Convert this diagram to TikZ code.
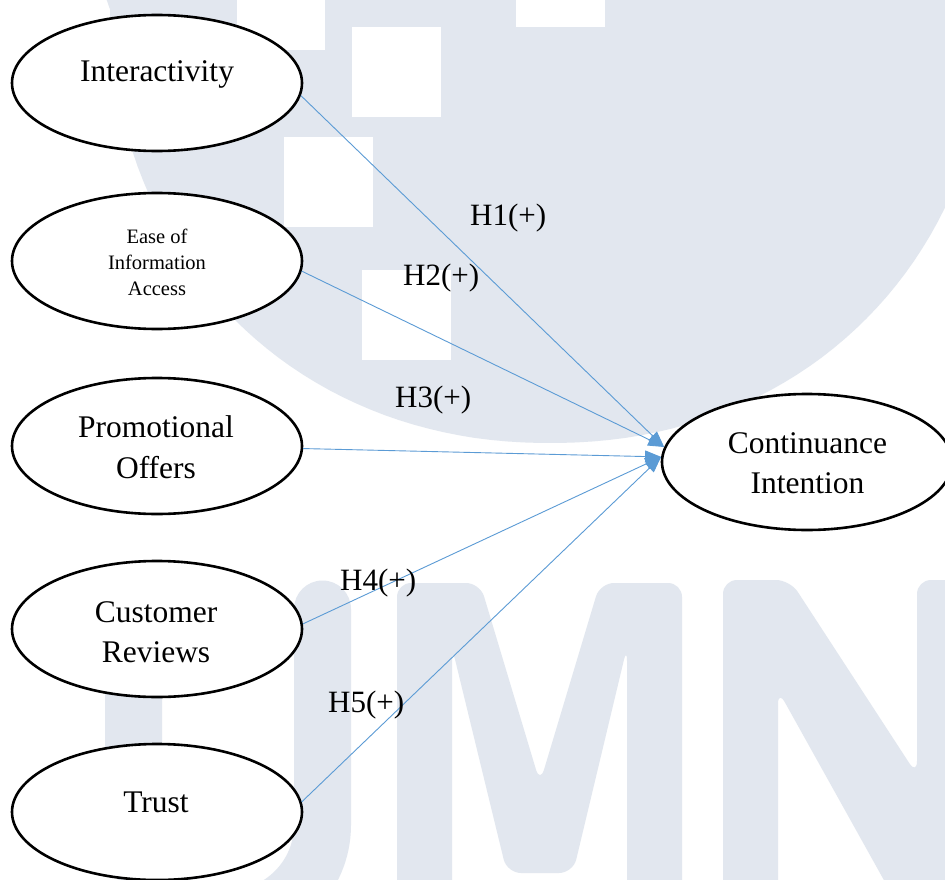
\documentclass[tikz,border=0pt]{standalone}
\usepackage{fontspec}
\setmainfont{Liberation Serif}
\usetikzlibrary{shapes.geometric,arrows.meta}
\definecolor{wmgray}{RGB}{226,231,239}
\definecolor{arrowblue}{RGB}{91,155,213}
\tikzset{
  oval/.style={ellipse, draw=black, line width=2.6pt, fill=white,
    minimum width=290pt, minimum height=136pt, inner sep=0pt},
  bigtext/.style={font=\fontsize{31.5pt}{40pt}\selectfont, anchor=base, inner sep=0pt},
  smalltext/.style={font=\fontsize{20.5pt}{26pt}\selectfont, anchor=base, inner sep=0pt},
  hyptext/.style={font=\fontsize{31pt}{40pt}\selectfont, anchor=base west, inner sep=0pt},
  hyp/.style={-{Triangle[length=16pt,width=12pt]}, draw=arrowblue, line width=0.9pt},
  wmshape/.style={fill=wmgray, draw=none},
}
\begin{document}
\begin{tikzpicture}[x=1pt, y=-1pt]
  \useasboundingbox (0,0) rectangle (945,880);
  \fill[white] (0,0) rectangle (945,880);
  \clip (0,0) rectangle (945,880);

  % background emblem: rounded shield with white squares
  \fill[wmshape] (995,-5)
    -- plot[domain=1:179, samples=90]
       ({550 + 440*sign(cos(\x))*(abs(cos(\x))+0.0001)^0.952}, {443*(sin(\x))^0.952})
    -- (105,-5) -- cycle;
  \fill[white] (237,-60) rectangle (325,50);
  \fill[white] (516,-60) rectangle (605,27);
  \fill[white] (352,27) rectangle (441,117);
  \fill[white] (284,137) rectangle (373,227);
  \fill[white] (362,270) rectangle (451,360);

  % background lettering U M N
  \draw[draw=wmgray, line width=57pt, line cap=round]
    (133.5,609) -- (133.5,825)
    .. controls (133.5,877) and (176,919) .. (228,919)
    .. controls (280,919) and (322.5,877) .. (322.5,825) -- (322.5,609);
  \fill[wmshape, rounded corners=14pt]
    (397,900) -- (397,583) -- (480,583) -- (540,783) -- (600,583)
    -- (682,583) -- (682,900) -- (627,900) -- (627,647) -- (573,873)
    -- (507,873) -- (452,647) -- (452,900) -- cycle;
  \fill[wmshape, rounded corners=14pt]
    (723,900) -- (723,580) -- (790,580) -- (917,775) -- (917,580)
    -- (990,580) -- (990,900) -- (895,900) -- (778,690) -- (778,900) -- cycle;

  % constructs
  \node[oval] (int)   at (157,83)  {};
  \node[oval] (ease)  at (157,261) {};
  \node[oval] (promo) at (157,446) {};
  \node[oval] (cust)  at (157,629) {};
  \node[oval] (trust) at (157,812) {};
  \node[oval] (ci)    at (807,462) {};

  % hypothesised paths
  \draw[hyp] (int.-5)   -- (ci.174);
  \draw[hyp] (ease.-4)  -- (ci.174);
  \draw[hyp] (promo.-1) -- (ci.178);
  \draw[hyp] (cust.2)   -- (ci.178);
  \draw[hyp] (trust.4)  -- (ci.178);

  % construct names
  \node[bigtext] (intA) at (157,82) {Interactivity};
  \node[smalltext] (easeA) at (157,243) {Ease of};
  \node[smalltext] (easeB) at (157,269.5) {Information};
  \node[smalltext] (easeC) at (157,295) {Access};
  \node[bigtext] (promoA) at (156,437.5) {Promotional};
  \node[bigtext] (promoB) at (156,478) {Offers};
  \node[bigtext] (custA) at (156,622) {Customer};
  \node[bigtext] (custB) at (156,662) {Reviews};
  \node[bigtext] (trustA) at (156,812) {Trust};
  \node[bigtext] (ciA) at (807.5,453) {Continuance};
  \node[bigtext] (ciB) at (807.5,493) {Intention};

  % hypothesis labels
  \node[hyptext] (h1) at (470,225) {H1(+)};
  \node[hyptext] (h2) at (403,285) {H2(+)};
  \node[hyptext] (h3) at (395,407) {H3(+)};
  \node[hyptext] (h4) at (340,590) {H4(+)};
  \node[hyptext] (h5) at (328,712) {H5(+)};
\end{tikzpicture}
\end{document}
